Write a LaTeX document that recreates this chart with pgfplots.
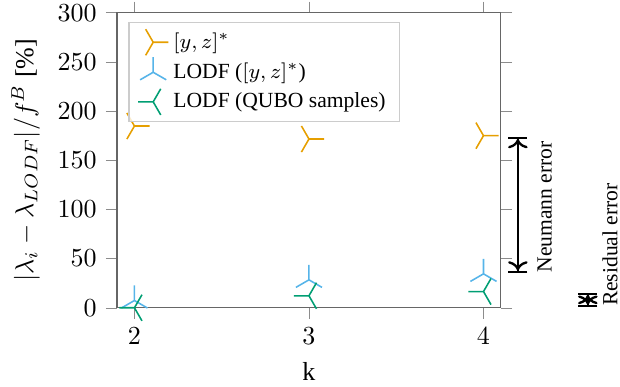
\documentclass[border=0pt]{standalone}
\usepackage{fontspec}
\setmainfont{Liberation Serif}
\usepackage{pgfplots}
\pgfplotsset{compat=1.18}
\usetikzlibrary{arrows.meta}
\definecolor{c1}{HTML}{E69F00}
\definecolor{c2}{HTML}{56B4E9}
\definecolor{c3}{HTML}{009E73}
\newcommand{\smallfont}{\fontsize{8.3}{10}\selectfont}
\begin{document}
\begin{tikzpicture}
\begin{axis}[
  scale only axis, width=147.7pt, height=113.5pt,
  xmin=1.9, xmax=4.1, ymin=0, ymax=300,
  xtick={2,3,4}, ytick={0,50,100,150,200,250,300},
  tick align=outside,
  xlabel={k},
  ylabel={$|\lambda_i - \lambda_{LODF}|/f^B$ [\%]},
  axis line style={black!60},
  tick style={black!45},
  clip=false,
  legend pos=north west,
  legend style={draw=black!20, fill opacity=0.8, text opacity=1, inner xsep=3.5pt, inner ysep=2pt, font=\smallfont},
  legend cell align=left,
]
\coordinate (SW) at (rel axis cs:0,0);
\coordinate (NE) at (rel axis cs:1,1);
\addplot[only marks, draw=c1, mark=Mercedes star, mark size=5.8pt, mark options={rotate=-90, line width=0.6pt}]
  coordinates {(2,184.8) (3,171.6) (4,175)};
\addlegendentry{$[y,z]^*$}
\addplot[only marks, draw=c2, mark=Mercedes star, mark size=5.8pt, mark options={line width=0.6pt}]
  coordinates {(2,7.4) (3,28.4) (4,34.5)};
\addlegendentry{LODF ($[y,z]^*$)}
\addplot[only marks, draw=c3, mark=Mercedes star, mark size=5.8pt, mark options={rotate=90, line width=0.6pt}]
  coordinates {(2,0) (3,12.2) (4,16.5)};
\addlegendentry{LODF (QUBO samples)}
\draw[line width=0.9pt, {Bar[width=7.3pt] To[]}-{To[] Bar[width=7.3pt]}] (axis cs:4.197,174) -- (axis cs:4.197,35.5);
\node[rotate=90, anchor=north west, inner sep=0pt, font=\smallfont] at (axis cs:4.306,35.5) {Neumann error};
\draw[line width=0.9pt, {Bar[width=7.3pt] To[]}-{To[] Bar[width=7.3pt]}] (axis cs:4.598,15.5) -- (axis cs:4.598,0.7);
\node[rotate=90, anchor=south west, inner sep=0pt, font=\smallfont] at (axis cs:4.772,1.3) {Residual error};
\end{axis}
\pgfresetboundingbox
\path[use as bounding box] ([xshift=-45pt,yshift=-30.4pt]SW) rectangle ([xshift=45.8pt,yshift=4.9pt]NE);
\end{tikzpicture}
\end{document}
